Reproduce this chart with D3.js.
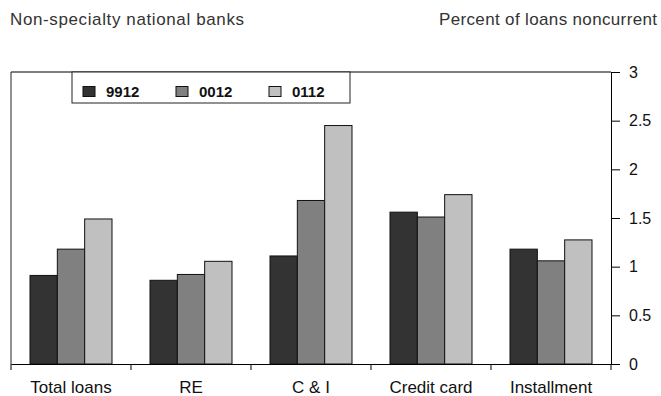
<!DOCTYPE html>
<html>
<head>
<meta charset="utf-8">
<script src="https://cdn.jsdelivr.net/npm/d3@7"></script>
<style>
  body { margin: 0; background: #fff; }
  svg { display: block; font-family: "Liberation Sans", Arial, sans-serif; }
</style>
</head>
<body>
<svg id="chart" width="661" height="396"></svg>
<script>
const categories = ["Total loans", "RE", "C & I", "Credit card", "Installment"];
const seriesNames = ["9912", "0012", "0112"];
const values9912 = [0.91, 0.86, 1.11, 1.56, 1.18];
const values0012 = [1.18, 0.92, 1.68, 1.51, 1.06];
const values0112 = [1.49, 1.055, 2.45, 1.74, 1.275];
const yTicks = [0, 0.5, 1, 1.5, 2, 2.5, 3];
const colors = ["#333333", "#808080", "#c0c0c0"];

const seriesValues = [values9912, values0012, values0112];

const svg = d3.select("#chart");
const pLeft = 11, pRight = 611, pTop = 72, pBottom = 364;

const x = d3.scaleBand().domain(categories).range([pLeft, pRight]).padding(0);
const xs = d3.scaleBand().domain(seriesNames).range([19, 101]).padding(0);
const y = d3.scaleLinear().domain([0, 3]).range([pBottom, pTop]);

// frame top & left
svg.append("line").attr("x1", pLeft).attr("x2", pRight).attr("y1", pTop).attr("y2", pTop)
  .attr("stroke", "#555").attr("stroke-width", 1.5);
svg.append("line").attr("x1", pLeft).attr("x2", pLeft).attr("y1", pTop).attr("y2", pBottom)
  .attr("stroke", "#222").attr("stroke-width", 1);

// bars
const groups = svg.append("g").selectAll("g").data(categories).join("g")
  .attr("transform", d => `translate(${x(d)},0)`);
groups.selectAll("rect")
  .data((c, i) => seriesNames.map((s, j) => ({ s, j, v: seriesValues[j][i] })))
  .join("rect")
  .attr("x", d => xs(d.s))
  .attr("width", xs.bandwidth())
  .attr("y", d => y(d.v))
  .attr("height", d => y(0) - y(d.v))
  .attr("fill", d => colors[d.j])
  .attr("stroke", "#111")
  .attr("stroke-width", 1);

// right axis
const yAxis = svg.append("g").attr("transform", `translate(${pRight},0)`)
  .call(d3.axisRight(y).tickValues(yTicks).tickSize(9).tickPadding(9).tickFormat(d3.format("")));
yAxis.select(".domain").attr("stroke", "#000");
yAxis.selectAll("text").attr("font-size", 16).attr("fill", "#111")
  .attr("font-family", "Liberation Sans, Arial, sans-serif");

// bottom axis
const xAxis = svg.append("g").attr("transform", `translate(0,${pBottom})`)
  .call(d3.axisBottom(x).tickSize(0).tickPadding(17));
xAxis.select(".domain").attr("stroke", "#000").attr("stroke-width", 1.2);
xAxis.selectAll("text").attr("font-size", 17).attr("fill", "#111")
  .attr("font-family", "Liberation Sans, Arial, sans-serif");
const bounds = categories.map(c => x(c)).concat([x.range()[1]]);
svg.append("g").selectAll("line").data(bounds).join("line")
  .attr("x1", d => d).attr("x2", d => d)
  .attr("y1", pBottom).attr("y2", pBottom + 6)
  .attr("stroke", "#000");

// legend
const lg = svg.append("g");
lg.append("rect").attr("x", 72).attr("y", 72).attr("width", 278).attr("height", 31)
  .attr("fill", "#fff").attr("stroke", "#222").attr("stroke-width", 1);
seriesNames.forEach((s, i) => {
  const lx = 83 + i * 93;
  lg.append("rect").attr("x", lx).attr("y", 86.5).attr("width", 12).attr("height", 10)
    .attr("fill", colors[i]).attr("stroke", "#111");
  lg.append("text").attr("x", lx + 23).attr("y", 96.5).text(s)
    .attr("font-size", 15).attr("font-weight", "bold").attr("fill", "#111");
});

// titles
svg.append("text").attr("x", 10).attr("y", 25).text("Non-specialty national banks")
  .attr("font-size", 17).attr("fill", "#333")
  .attr("textLength", 234).attr("lengthAdjust", "spacing");
svg.append("text").attr("x", 439).attr("y", 25)
  .text("Percent of loans noncurrent").attr("font-size", 17).attr("fill", "#333")
  .attr("textLength", 218).attr("lengthAdjust", "spacing");
</script>
</body>
</html>
